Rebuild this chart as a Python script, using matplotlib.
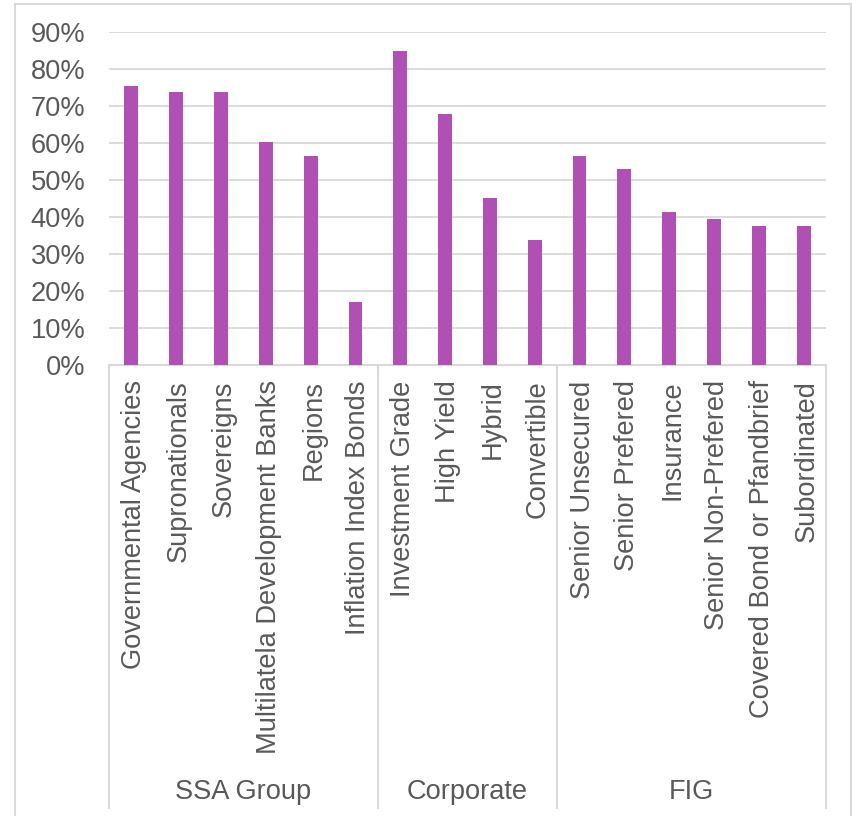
import matplotlib
matplotlib.use("Agg")
import matplotlib.pyplot as plt
from matplotlib.patches import Rectangle
import matplotlib.transforms as mtransforms

categories = ["Governmental Agencies", "Supronationals", "Sovereigns",
              "Multilatela Development Banks", "Regions", "Inflation Index Bonds",
              "Investment Grade", "High Yield", "Hybrid", "Convertible",
              "Senior Unsecured", "Senior Prefered", "Insurance",
              "Senior Non-Prefered", "Covered Bond or Pfandbrief", "Subordinated"]
values = [0.753, 0.736, 0.736, 0.602, 0.564, 0.169,
          0.849, 0.679, 0.450, 0.338,
          0.564, 0.528, 0.412, 0.395, 0.376, 0.376]
groups = ["SSA Group", "Corporate", "FIG"]
group_sizes = [6, 4, 6]
yticks = [0, 0.1, 0.2, 0.3, 0.4, 0.5, 0.6, 0.7, 0.8, 0.9]
ytick_labels = ["0%", "10%", "20%", "30%", "40%", "50%", "60%", "70%", "80%", "90%"]

plt.rcParams['font.family'] = ['Liberation Sans', 'DejaVu Sans']
TXT = "#595959"
GRID = "#D9D9D9"
BAR = "#B04FB4"
FS = 19.6

W, H = 852, 816
fig = plt.figure(figsize=(W/100, H/100), dpi=100)
fig.patch.set_facecolor("white")

# outer border
border = Rectangle((15/W, -0.05), (851-15)/W, 1 - 4/H + 0.05, transform=fig.transFigure,
                   fill=False, edgecolor=GRID, linewidth=1.5, clip_on=False)
fig.patches.append(border)

left, right = 109/W, 826/W
bottom, top = 1 - 365/H, 1 - 31.7/H
ax = fig.add_axes([left, bottom, right-left, top-bottom])

x = list(range(len(categories)))
ax.bar(x, values, width=0.31, color=BAR, zorder=3)
ax.set_xlim(-0.5, len(categories)-0.5)
ax.set_ylim(0, 0.9)

for s in ax.spines.values():
    s.set_visible(False)
ax.set_yticks(yticks)
ax.set_yticklabels(ytick_labels)
ax.yaxis.grid(True, color=GRID, linewidth=1.3, zorder=0)
ax.set_axisbelow(True)
ax.tick_params(axis='y', length=0, pad=17, labelsize=FS, labelcolor=TXT)
ax.set_xticks(x)
ax.set_xticklabels(categories, rotation=90, ha='center', va='top')
ax.tick_params(axis='x', length=0, pad=11, labelsize=FS, labelcolor=TXT)
shift = mtransforms.ScaledTranslation(3/100, 0, fig.dpi_scale_trans)
for lbl in ax.get_xticklabels():
    lbl.set_transform(lbl.get_transform() + shift)

ax.axhline(0, color=GRID, linewidth=1.5, zorder=2, clip_on=False)

trans = mtransforms.blended_transform_factory(ax.transData, ax.transAxes)
ax_h_px = 365 - 31.7
y_line_end = -(808 - 365) / ax_h_px
y_group = -(792 - 365) / ax_h_px
pos = -0.5
bounds = [pos]
for g, n in zip(groups, group_sizes):
    ax.text(pos + n/2, y_group, g, transform=trans, ha='center', va='center',
            fontsize=FS, color=TXT)
    pos += n
    bounds.append(pos)
for b in bounds:
    ax.plot([b, b], [0, y_line_end], transform=trans, color=GRID, linewidth=1.5,
            clip_on=False)

fig.savefig("out.png", dpi=100, facecolor="white")
